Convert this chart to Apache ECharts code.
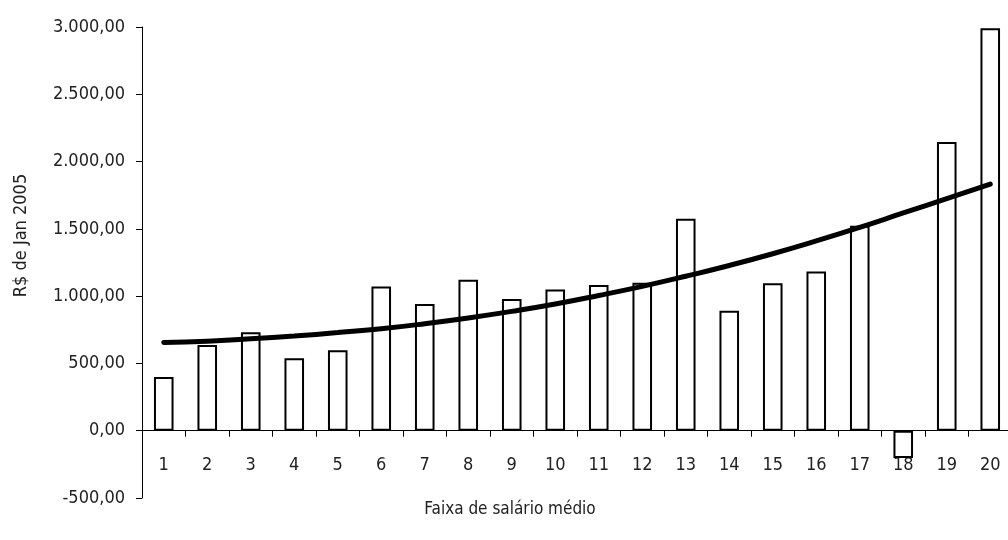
<!DOCTYPE html>
<html>
<head>
<meta charset="utf-8">
<script src="https://cdn.jsdelivr.net/npm/echarts@6/dist/echarts.min.js"></script>
<style>
  html, body { margin: 0; padding: 0; background: #fff; }
  #chart { width: 1008px; height: 540px; }
</style>
</head>
<body>
<div id="chart"></div>
<script>
// Faixas de salário médio (1..20)
const faixas = ['1','2','3','4','5','6','7','8','9','10','11','12','13','14','15','16','17','18','19','20'];
// Valor em R$ de Jan 2005 por faixa
const valores = [400, 637, 731, 538, 598, 1072, 941, 1121, 978, 1050, 1082, 1099, 1576, 892, 1096, 1183, 1524, -202, 2146, 2990];
// Linha de tendência
const tendencia = [655, 664, 683, 704, 729, 758, 795, 838, 887, 942, 1005, 1073, 1148, 1228, 1315, 1410, 1511, 1618, 1724, 1833];
// Marcas do eixo vertical
const yTicks = [-500, 0, 500, 1000, 1500, 2000, 2500, 3000];

const FONT = "'Liberation Sans Narrow', 'DejaVu Sans Condensed', 'Noto Sans', sans-serif";

function brl(v) {
  const neg = v < 0;
  const s = Math.abs(v).toFixed(2).split('.');
  const inteiro = s[0].replace(/\B(?=(\d{3})+(?!\d))/g, '.');
  return (neg ? '-' : '') + inteiro + ',' + s[1];
}

const chart = echarts.init(document.getElementById('chart'), null, { renderer: 'canvas' });
chart.setOption({
  animation: false,
  backgroundColor: '#ffffff',
  grid: { left: 142, top: 27, width: 870, bottom: 42, containLabel: false, outerBoundsMode: 'none' },
  xAxis: {
    type: 'category',
    data: faixas,
    boundaryGap: true,
    name: 'Faixa de salário médio',
    nameLocation: 'middle',
    nameGap: 3,
    nameTextStyle: { fontFamily: FONT, fontSize: 17, color: '#222', padding: [0, 134, 0, 0] },
    axisLine: { onZero: true, lineStyle: { color: '#000', width: 1 } },
    axisTick: { show: true, inside: false, length: 6, lineStyle: { color: '#000' } },
    axisLabel: { fontFamily: FONT, fontSize: 18, color: '#222', margin: -42 },
    splitLine: { show: false }
  },
  yAxis: {
    type: 'value',
    min: -500,
    max: 3000,
    interval: 500,
    name: 'R$ de Jan 2005',
    nameLocation: 'middle',
    nameGap: 112,
    nameTextStyle: { fontFamily: FONT, fontSize: 18, color: '#222', padding: [0, 0, 0, 54] },
    axisLine: { show: true, lineStyle: { color: '#000', width: 1 } },
    axisTick: { show: true, inside: false, length: 6, lineStyle: { color: '#000' } },
    axisLabel: {
      fontFamily: FONT, fontSize: 18, color: '#222', margin: 17,
      customValues: yTicks,
      formatter: brl
    },
    splitLine: { show: false }
  },
  series: [
    {
      type: 'bar',
      data: valores,
      barWidth: '45%',
      itemStyle: { color: '#ffffff', borderColor: '#000', borderWidth: 2 }
    },
    {
      type: 'line',
      data: tendencia,
      smooth: true,
      symbol: 'none',
      lineStyle: { color: '#000', width: 5, cap: 'round' },
      z: 5
    }
  ]
});
</script>
</body>
</html>
